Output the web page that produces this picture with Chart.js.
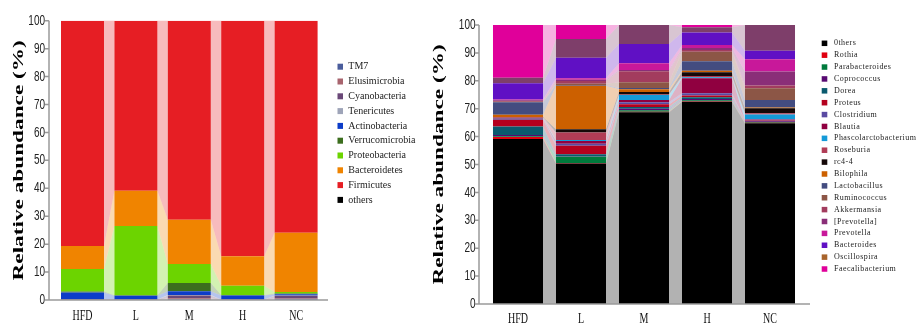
<!DOCTYPE html>
<html>
<head>
<meta charset="utf-8">
<script src="https://cdn.jsdelivr.net/npm/chart.js@4.4.1/dist/chart.umd.min.js"></script>
<style>
  body { margin: 0; background: #fff; }
  canvas { position: absolute; top: 0; }
</style>
</head>
<body>
<canvas id="phylumChart" width="430" height="326" style="left:0px"></canvas>
<canvas id="genusChart" width="492" height="326" style="left:425px"></canvas>
<script>
const groups = ['HFD', 'L', 'M', 'H', 'NC'];

// phylum level, one row per phylum (bottom of stack first), one value per group
const phyla = ['TM7', 'Elusimicrobia', 'Cyanobacteria', 'Tenericutes', 'Actinobacteria',
    'Verrucomicrobia', 'Proteobacteria', 'Bacteroidetes', 'Firmicutes', 'others'];
const phylumColors = ['#4a5d9c', '#a8646e', '#6a4878', '#9ea4b8', '#0c3cc8',
    '#3c6e1e', '#6cd400', '#f08400', '#e61e24', '#000000'];
const phylumAbundance = [
    [0, 0, 0.3, 0, 0.3],
    [0, 0, 0.3, 0, 0.2],
    [0.3, 0.2, 1.0, 0.2, 1.0],
    [0, 0, 0.2, 0, 0.1],
    [2.4, 1.3, 1.3, 1.4, 0.5],
    [0.3, 0.2, 3.0, 0.2, 0.2],
    [8.1, 24.8, 6.8, 3.3, 0.6],
    [8.2, 12.6, 15.8, 10.6, 21.2],
    [80.7, 60.9, 71.3, 84.3, 75.9],
    [0, 0, 0, 0, 0]
];

// genus level
const genera = ['0thers', 'Rothia', 'Parabacteroides', 'Coprococcus', 'Dorea', 'Proteus',
    'Clostridium', 'Blautia', 'Phascolarctobacterium', 'Roseburia', 'rc4-4', 'Bilophila',
    'Lactobacillus', 'Ruminococcus', 'Akkermansia', '[Prevotella]', 'Prevotella',
    'Bacteroides', 'Oscillospira', 'Faecalibacterium'];
const genusColors = ['#000000', '#e00010', '#007a3c', '#580a72', '#0a5a6e', '#b4001e',
    '#5a4aa2', '#900040', '#149ad8', '#b03c56', '#140808', '#cc6000',
    '#434c80', '#8c5646', '#a23c5e', '#8a2e78', '#c8189a',
    '#6010c4', '#7e3e6a', '#e0009a'];
const genusAbundance = [
    [59.1, 50.4, 68.7, 72.5, 64.8],
    [0.8, 0.1, 0.2, 0.2, 0.2],
    [0.2, 2.3, 0.5, 0.3, 0.2],
    [0.5, 0.1, 0.6, 0.5, 0.3],
    [3.0, 0.8, 0.6, 0.6, 0.1],
    [2.4, 3.0, 1.0, 0.6, 0.2],
    [0.3, 0.7, 0.7, 0.8, 0.2],
    [0.2, 1.0, 0.8, 5.4, 0.2],
    [0.2, 0.4, 1.8, 0.4, 1.7],
    [0.2, 2.7, 0.2, 0.4, 0.5],
    [0.1, 1.1, 0.9, 1.4, 1.8],
    [0.8, 15.6, 1.0, 0.5, 0.2],
    [4.5, 0.3, 0.4, 3.4, 2.7],
    [0.2, 0.4, 2.1, 3.4, 4.2],
    [0.3, 1.0, 3.9, 0.6, 1.0],
    [0.2, 0.5, 0.5, 0.8, 5.0],
    [0.3, 0.5, 2.4, 1.0, 4.4],
    [5.8, 7.4, 6.9, 4.5, 3.1],
    [2.0, 6.7, 6.8, 1.9, 9.2],
    [18.9, 5.0, 0, 0.8, 0]
];
// the legend box of Oscillospira is brown in the original figure
const genusSwatch = { Oscillospira: '#a8642c' };

// the source figure is stretched vertically, so axis text is drawn taller than wide
const TEXT_STRETCH = 1.5;
function stretchText(ctx) {
    const fill = ctx.fillText.bind(ctx);
    ctx.textStretch = TEXT_STRETCH;
    ctx.fillText = function (text, x, y, maxWidth) {
        const m = ctx.getTransform();
        const p = m.transformPoint(new DOMPoint(x, y));
        ctx.save();
        ctx.setTransform(new DOMMatrix().translate(p.x, p.y).scale(1, ctx.textStretch)
            .translate(-p.x, -p.y).multiply(m));
        if (maxWidth === undefined) fill(text, x, y); else fill(text, x, y, maxWidth);
        ctx.restore();
    };
}

// translucent ribbons joining each segment to the same segment of the next bar
const bandPlugin = {
    id: 'bands',
    beforeDatasetsDraw(chart, args, opts) {
        const ctx = chart.ctx;
        ctx.save();
        ctx.globalAlpha = opts.alpha;
        chart.data.datasets.forEach((ds, d) => {
            const bars = chart.getDatasetMeta(d).data;
            ctx.fillStyle = ds.backgroundColor;
            for (let i = 0; i < bars.length - 1; i++) {
                const a = bars[i], b = bars[i + 1];
                if (a.y === a.base && b.y === b.base) continue;
                ctx.beginPath();
                ctx.moveTo(a.x + a.width / 2, a.y);
                ctx.lineTo(b.x - b.width / 2, b.y);
                ctx.lineTo(b.x - b.width / 2, b.base);
                ctx.lineTo(a.x + a.width / 2, a.base);
                ctx.closePath();
                ctx.fill();
            }
        });
        ctx.restore();
    }
};

// axis lines run a little past the outer bars, like in the figure
const axisPlugin = {
    id: 'axes',
    afterDraw(chart, args, opts) {
        const { ctx, chartArea: area, scales: { y } } = chart;
        const x0 = area.left - opts.padLeft;
        const x1 = area.right + opts.padRight;
        ctx.save();
        ctx.strokeStyle = '#9a9a9a';
        ctx.lineWidth = 1.5;
        ctx.beginPath();
        ctx.moveTo(x0, area.top);
        ctx.lineTo(x0, area.bottom);
        ctx.lineTo(x1, area.bottom);
        y.ticks.forEach(t => {
            const py = y.getPixelForValue(t.value);
            ctx.moveTo(x0 - 4, py);
            ctx.lineTo(x0, py);
        });
        ctx.stroke();
        ctx.restore();
    }
};

const sideLegend = {
    id: 'sideLegend',
    afterDraw(chart, args, o) {
        const ctx = chart.ctx;
        ctx.save();
        ctx.textStretch = 1;
        ctx.font = o.font;
        ctx.letterSpacing = o.spacing;
        ctx.textBaseline = 'middle';
        ctx.textAlign = 'left';
        chart.data.datasets.forEach((ds, i) => {
            const cy = o.top + i * o.step;
            ctx.fillStyle = (o.swatch && o.swatch[ds.label]) || ds.backgroundColor;
            ctx.fillRect(o.left, cy - o.boxH / 2, o.boxW, o.boxH);
            ctx.fillStyle = '#222';
            ctx.fillText(ds.label, o.textLeft, cy);
        });
        ctx.restore();
        ctx.textStretch = TEXT_STRETCH;
    }
};

function stackedChart(id, names, colors, rows, look) {
    const canvas = document.getElementById(id);
    stretchText(canvas.getContext('2d'));
    return new Chart(canvas, {
        type: 'bar',
        data: {
            labels: groups,
            datasets: names.map((name, i) => ({
                label: name,
                data: rows[i],
                backgroundColor: colors[i],
                categoryPercentage: 1,
                barPercentage: look.bar
            }))
        },
        options: {
            responsive: false,
            animation: false,
            devicePixelRatio: 1,
            layout: { padding: { top: look.top, right: look.right, bottom: 0, left: 0 } },
            scales: {
                x: {
                    stacked: true,
                    offset: true,
                    grid: { display: false, drawTicks: false },
                    border: { display: false },
                    ticks: { color: '#111', padding: look.xPad, font: { family: 'Liberation Serif', size: 10 } },
                    afterFit: s => { s.height = look.xHeight; }
                },
                y: {
                    stacked: true,
                    min: 0,
                    max: 100,
                    grid: { display: false, drawTicks: false },
                    border: { display: false },
                    ticks: { stepSize: 10, color: '#222', padding: look.yPad, font: { family: 'Liberation Sans', size: 10 } },
                    title: {
                        display: true,
                        text: 'Relative abundance (%)',
                        color: '#000',
                        padding: { top: look.titlePad, bottom: 0 },
                        font: { family: 'Liberation Serif', size: 15.5, weight: 'bold', lineHeight: 1 }
                    },
                    afterFit: s => { s.width = look.yWidth; }
                }
            },
            plugins: {
                legend: { display: false },
                tooltip: { enabled: false },
                bands: { alpha: 0.3 },
                axes: { padLeft: look.axisL, padRight: look.axisR },
                sideLegend: look.legend
            }
        },
        plugins: [bandPlugin, axisPlugin, sideLegend]
    });
}

stackedChart('phylumChart', phyla, phylumColors, phylumAbundance, {
    bar: 0.805, top: 20.7, right: 107.2, yWidth: 55.8, xHeight: 26,
    xPad: 10, yPad: 10.8, titlePad: 11.2, axisL: 6.8, axisR: 5.2,
    legend: { left: 337.5, boxW: 5.5, boxH: 6, textLeft: 348.3, top: 66.7, step: 14.8,
        font: '10px "Liberation Serif"', spacing: '0px' }
});

stackedChart('genusChart', genera, genusColors, genusAbundance, {
    bar: 0.794, top: 25, right: 115.5, yWidth: 61.5, xHeight: 22,
    xPad: 9, yPad: 11, titlePad: 6.2, axisL: 7.5, axisR: 8.5,
    legend: { left: 396.7, boxW: 5.6, boxH: 5.5, textLeft: 409, top: 43.3, step: 11.88,
        font: '8px "Liberation Serif"', spacing: '0.45px', swatch: genusSwatch }
});
</script>
</body>
</html>
